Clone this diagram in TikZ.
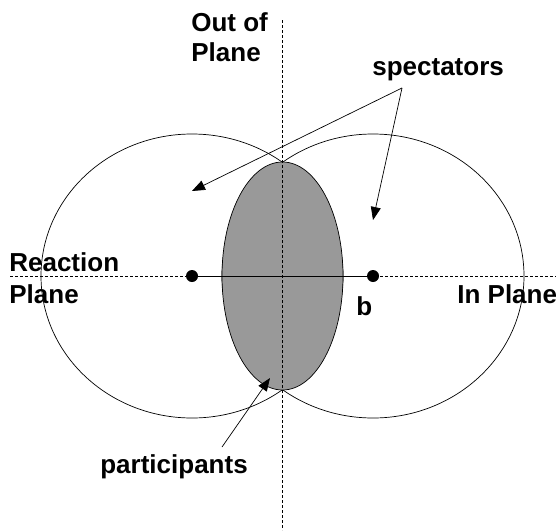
\documentclass[tikz,border=0pt]{standalone}
\usepackage{fontspec}
\setmainfont{Liberation Sans}
\usetikzlibrary{arrows.meta}

\definecolor{overlapgray}{HTML}{999999}

\tikzset{
  lbl/.style={font=\bfseries\fontsize{26}{31}\selectfont, inner sep=0pt, anchor=base west},
  axisline/.style={line width=0.8pt, dash pattern=on 3pt off 2pt},
  pointer/.style={-{Triangle[length=13pt,width=10pt]}, line width=0.7pt},
}

\begin{document}
\begin{tikzpicture}[x=1pt, y=-1pt, line width=0.7pt]

  \useasboundingbox (0,0) rectangle (556,530);

  % the two nuclei
  \draw (192,276) ellipse [x radius=151, y radius=142];
  \draw (373,276) ellipse [x radius=151, y radius=142];

  % overlap zone
  \draw[fill=overlapgray] (282.5,276) ellipse [x radius=60.5, y radius=114];

  % planes
  \coordinate (vtop) at (282.5,20);
  \coordinate (vbot) at (282.5,530);
  \coordinate (hleft) at (10,276);
  \coordinate (hright) at (556,276);
  \draw[axisline] (vtop) -- (vbot);
  \draw[axisline] (hleft) -- (hright);

  % impact parameter
  \coordinate (cl) at (192,276);
  \coordinate (cr) at (373,276);
  \draw (cl) -- (cr);
  \fill (cl) circle [radius=6];
  \fill (cr) circle [radius=6];

  % labels
  \node[lbl] (outplane) at (191,31) {%
    \begin{tabular}[t]{@{}l@{}}
      Out of \\[-1pt]
      Plane
    \end{tabular}};
  \node[lbl] (reaction) at (9,271) {%
    \begin{tabular}[t]{@{}l@{}}
      Reaction \\[1pt]
      Plane
    \end{tabular}};
  \node[lbl] (inplane) at (457,303) {In Plane};
  \node[lbl] (b) at (356,315) {b};
  \node[lbl] (spect) at (372,75) {spectators};
  \node[lbl] (partic) at (100,473) {participants};

  % pointers
  \coordinate (specfork) at (402,88);
  \coordinate (specl) at (192,191);
  \coordinate (specr) at (373,220);
  \coordinate (partfoot) at (222,447);
  \coordinate (partpt) at (270,378);
  \draw[pointer] (specfork) -- (specl);
  \draw[pointer] (specfork) -- (specr);
  \draw[pointer] (partfoot) -- (partpt);

\end{tikzpicture}
\end{document}
